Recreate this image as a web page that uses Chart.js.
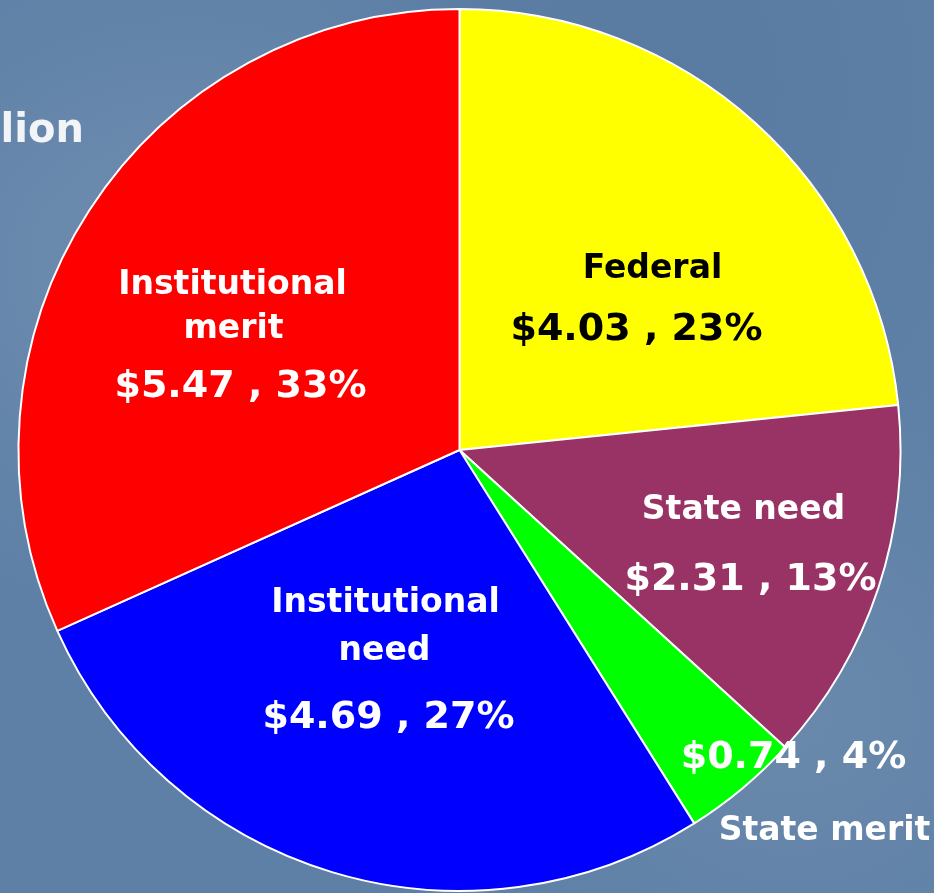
<!DOCTYPE html>
<html>
<head>
<meta charset="utf-8">
<title>Aid by source</title>
<script src="https://cdn.jsdelivr.net/npm/chart.js@4"></script>
<style>
  html, body { margin: 0; padding: 0; }
  body {
    width: 934px; height: 893px; overflow: hidden;
    background-color: #5e80a6;
    background-image:
      radial-gradient(ellipse at 20% 30%, rgba(140,165,195,0.35), rgba(0,0,0,0) 40%),
      radial-gradient(ellipse at 85% 80%, rgba(130,155,185,0.3), rgba(0,0,0,0) 35%),
      radial-gradient(ellipse at 70% 10%, rgba(80,110,150,0.3), rgba(0,0,0,0) 40%);
  }
  canvas { display: block; }
</style>
</head>
<body>
<canvas id="aidChart" width="934" height="893"></canvas>
<script>
// Aid by source, $ billion
const categories = ['Federal', 'State need', 'State merit', 'Institutional need', 'Institutional merit'];
const amounts = [4.03, 2.31, 0.74, 4.69, 5.47];
const percents = [23, 13, 4, 27, 33];
const sliceColors = ['#ffff00', '#993366', '#00ff00', '#0000ff', '#ff0000'];

// label lines per slice: text, offset from pie centre (x, baseline y), size, colour
const labelLayout = [
    [{ t: 'name', x: 193, y: -172, s: 33 }, { t: 'value', x: 177, y: -110, s: 38 }],
    [{ t: 'name', x: 284, y: 69, s: 33 }, { t: 'value', x: 291, y: 140, s: 38 }],
    [{ t: 'value', x: 334, y: 318, s: 38 }, { t: 'name', x: 365, y: 390, s: 33 }],
    [{ t: 'Institutional', x: -74, y: 162, s: 33 }, { t: 'need', x: -75, y: 210, s: 33 }, { t: 'value', x: -71, y: 278, s: 38 }],
    [{ t: 'Institutional', x: -227, y: -156, s: 33 }, { t: 'merit', x: -226, y: -112, s: 33 }, { t: 'value', x: -219, y: -53, s: 38 }]
];
const textColors = ['#000000', '#ffffff', '#ffffff', '#ffffff', '#ffffff'];

const sliceLabels = {
    id: 'sliceLabels',
    afterDraw(chart) {
        const ctx = chart.ctx;
        const arcs = chart.getDatasetMeta(0).data;
        ctx.save();
        ctx.textAlign = 'center';
        ctx.textBaseline = 'alphabetic';
        arcs.forEach((arc, i) => {
            labelLayout[i].forEach(line => {
                let text = line.t;
                if (text === 'name') text = categories[i];
                if (text === 'value') text = '$' + amounts[i].toFixed(2) + ' , ' + percents[i] + '%';
                ctx.font = 'bold ' + line.s + 'px "DejaVu Sans", Verdana, sans-serif';
                ctx.fillStyle = textColors[i];
                ctx.fillText(text, arc.x + line.x, arc.y + line.y);
            });
        });
        // clipped heading at the left edge
        ctx.textAlign = 'right';
        ctx.font = 'bold 40px "DejaVu Sans", Verdana, sans-serif';
        ctx.fillStyle = '#f2f4f7';
        ctx.fillText('$17.24 billion', 84, 142);
        ctx.restore();
    }
};

const aidCtx = document.getElementById('aidChart').getContext('2d');
const aidChart = new Chart(aidCtx, {
    type: 'pie',
    data: {
        labels: categories,
        datasets: [{
            data: amounts,
            backgroundColor: sliceColors,
            borderColor: '#ffffff',
            borderWidth: 2
        }]
    },
    options: {
        responsive: false,
        animation: false,
        devicePixelRatio: 1,
        layout: { padding: { left: 17, right: 32, top: 8, bottom: 1 } },
        plugins: {
            legend: { display: false },
            tooltip: { enabled: false }
        }
    },
    plugins: [sliceLabels]
});
</script>
</body>
</html>
